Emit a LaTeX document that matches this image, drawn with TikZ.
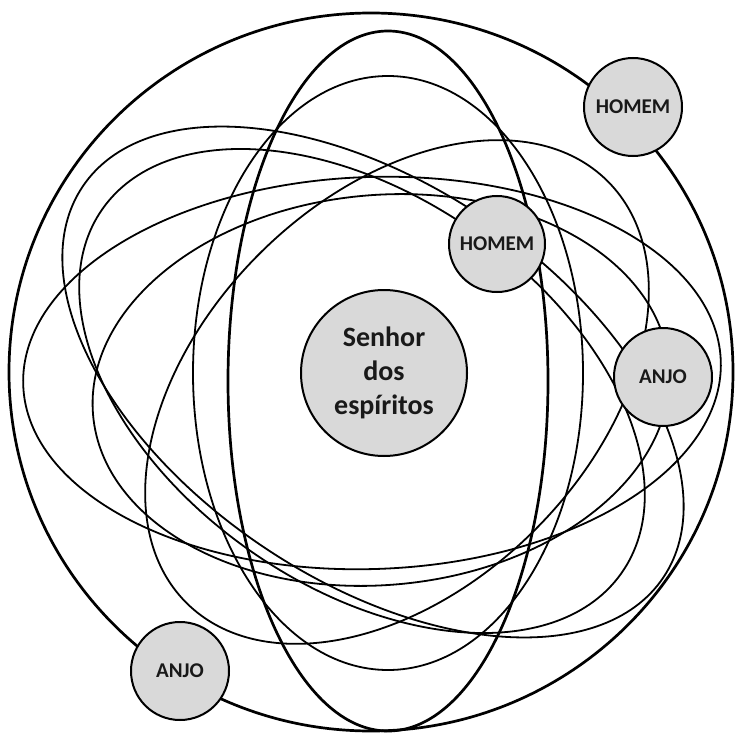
\documentclass[tikz,border=0pt]{standalone}
\usepackage{fontspec}
\setmainfont{Carlito}
\definecolor{nodegray}{RGB}{217,217,217}
\definecolor{inkdark}{RGB}{25,25,25}
\begin{document}
\begin{tikzpicture}[x=1pt,y=-1pt,
  orbit/.style={draw=black, line width=1.8pt},
  thickorbit/.style={draw=black, line width=2.7pt},
  soul/.style={circle, draw=black, line width=2pt, fill=nodegray, inner sep=0pt,
    font=\bfseries\fontsize{21}{25}\selectfont, text=inkdark},
  lord/.style={circle, draw=black, line width=2pt, fill=nodegray, inner sep=0pt,
    align=center, font=\bfseries\fontsize{28}{34}\selectfont, text=inkdark}]
\useasboundingbox (0,0) rectangle (736,733);
\fill[white] (0,0) rectangle (736,733);
% centres of the orbits
\coordinate (co) at (371,372);
\coordinate (cv) at (388,381);
\coordinate (cc) at (388,373);
\coordinate (cg) at (372,373);
\coordinate (ca1) at (373,382);
\coordinate (ca2) at (362,391);
\coordinate (cf) at (397,392);
\coordinate (ch) at (381,390);
% outer circle
\draw[thickorbit] (co) ellipse [x radius=362, y radius=359];
% orbits
\draw[thickorbit] (cv) ellipse [x radius=160, y radius=350];
\draw[orbit] (cc) ellipse [x radius=195, y radius=297];
\draw[orbit, rotate around={2:(cg)}] (cg) ellipse [x radius=349, y radius=196];
\draw[orbit, rotate around={-34:(ca1)}] (ca1) ellipse [x radius=350, y radius=198];
\draw[orbit, rotate around={-35:(ca2)}] (ca2) ellipse [x radius=317, y radius=195];
\draw[orbit, rotate around={45:(cf)}] (cf) ellipse [x radius=298, y radius=195];
\draw[orbit, rotate around={5:(ch)}] (ch) ellipse [x radius=289, y radius=195];
% nodes
\node[lord, minimum size=166pt] (senhor) at (384,373) {Senhor\\dos\\espíritos};
\node[soul, minimum size=96pt] (homemin) at (497,244) {HOMEM};
\node[soul, minimum size=98pt] (homemout) at (633,107) {HOMEM};
\node[soul, minimum size=98pt] (anjoright) at (663,377) {ANJO};
\node[soul, minimum size=98pt] (anjoleft) at (180,671) {ANJO};
\end{tikzpicture}
\end{document}
